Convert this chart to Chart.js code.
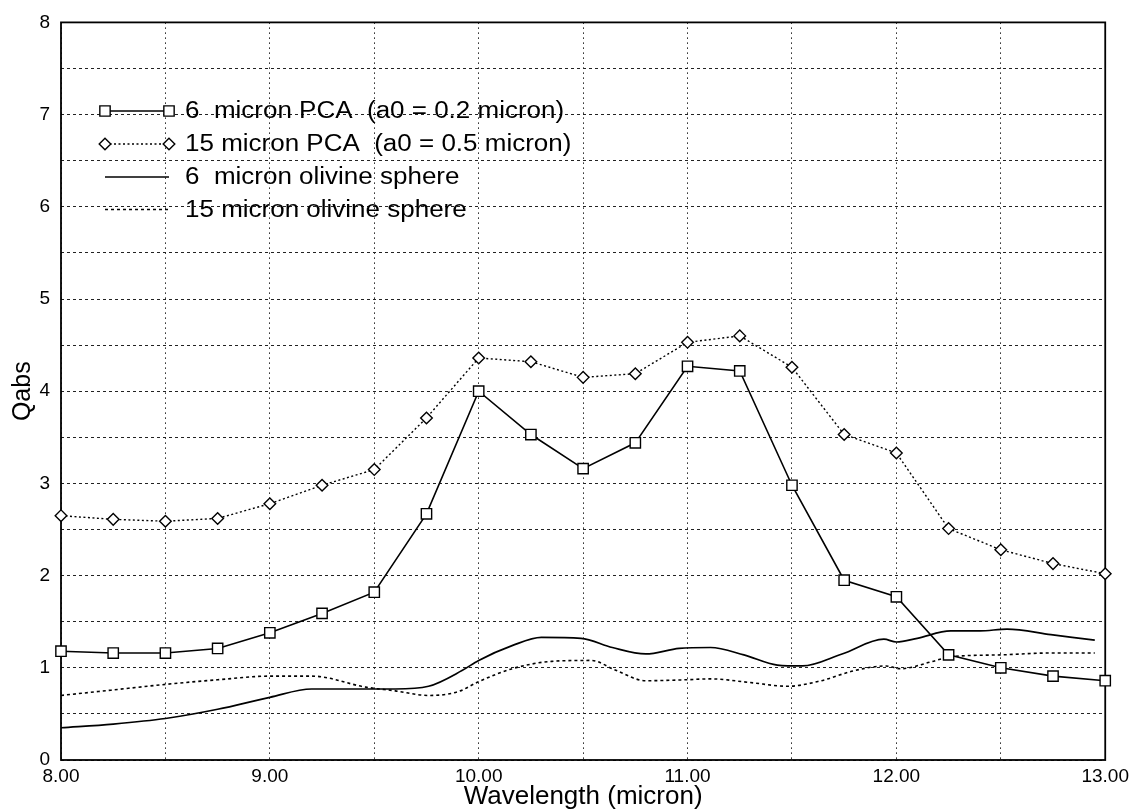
<!DOCTYPE html>
<html><head><meta charset="utf-8">
<script src="https://cdn.jsdelivr.net/npm/chart.js@4/dist/chart.umd.min.js"></script>
<style>html,body{margin:0;padding:0;background:#fff}canvas{display:block}</style>
</head><body>
<canvas id="c" width="1134" height="812"></canvas>
<script>
// ---- data ----
const pcaX = [8.00, 8.25, 8.50, 8.75, 9.00, 9.25, 9.50, 9.75, 10.00, 10.25, 10.50, 10.75, 11.00, 11.25, 11.50, 11.75, 12.00, 12.25, 12.50, 12.75, 13.00];
const pca6 = [1.18, 1.16, 1.16, 1.21, 1.38, 1.59, 1.82, 2.67, 4.00, 3.53, 3.16, 3.44, 4.27, 4.22, 2.98, 1.95, 1.77, 1.14, 1.00, 0.91, 0.86];
const pca15 = [2.65, 2.61, 2.59, 2.62, 2.78, 2.98, 3.15, 3.71, 4.36, 4.32, 4.15, 4.19, 4.53, 4.60, 4.26, 3.53, 3.33, 2.51, 2.28, 2.13, 2.02];

const sphere6X = [8.00, 8.25, 8.50, 8.75, 9.00, 9.20, 9.40, 9.60, 9.76, 9.92, 10.00, 10.16, 10.30, 10.49, 10.64, 10.80, 10.96, 11.11, 11.27, 11.43, 11.55, 11.74, 11.94, 12.00, 12.10, 12.26, 12.40, 12.53, 12.74, 12.95];
const sphere6Y = [0.35, 0.39, 0.45, 0.55, 0.68, 0.77, 0.77, 0.77, 0.80, 0.97, 1.08, 1.24, 1.33, 1.32, 1.22, 1.15, 1.21, 1.22, 1.14, 1.03, 1.02, 1.15, 1.31, 1.28, 1.32, 1.40, 1.40, 1.42, 1.36, 1.30];

const sphere15X = [8.00, 8.25, 8.50, 8.75, 9.00, 9.20, 9.46, 9.60, 9.76, 9.90, 10.00, 10.16, 10.35, 10.54, 10.65, 10.80, 10.99, 11.11, 11.30, 11.48, 11.64, 11.80, 11.95, 12.02, 12.16, 12.26, 12.50, 12.72, 12.95];
const sphere15Y = [0.70, 0.76, 0.82, 0.87, 0.91, 0.91, 0.79, 0.75, 0.70, 0.74, 0.85, 0.99, 1.07, 1.08, 0.98, 0.86, 0.87, 0.88, 0.84, 0.80, 0.86, 0.97, 1.02, 0.99, 1.06, 1.12, 1.14, 1.16, 1.16];

const seriesNames = ['6  micron PCA  (a0 = 0.2 micron)', '15 micron PCA  (a0 = 0.5 micron)', '6  micron olivine sphere', '15 micron olivine sphere'];
const xTickValues = [8, 9, 10, 11, 12, 13];
const yTickValues = [0, 1, 2, 3, 4, 5, 6, 7, 8];
const xTitle = 'Wavelength (micron)';
const yTitle = 'Qabs';

// ---- helpers ----
const pts = (xs, ys) => xs.map((x, i) => ({x: x, y: ys[i]}));
const FONT = '"Liberation Sans", Arial, Helvetica, sans-serif';
Chart.defaults.font.family = FONT;
Chart.defaults.color = '#000';

function drawMarker(ctx, style, r, x, y, bw) {
  ctx.save();
  ctx.setLineDash([]);
  ctx.lineWidth = bw;
  ctx.strokeStyle = '#000';
  ctx.fillStyle = '#fff';
  ctx.beginPath();
  if (style === 'rect') {
    const s = Math.SQRT1_2 * r;
    ctx.rect(x - s, y - s, 2 * s, 2 * s);
  } else {
    ctx.moveTo(x, y - r); ctx.lineTo(x + r, y); ctx.lineTo(x, y + r); ctx.lineTo(x - r, y); ctx.closePath();
  }
  ctx.fill(); ctx.stroke();
  ctx.restore();
}

const framePlugin = {
  id: 'frame',
  beforeDatasetsDraw(chart) {
    const {ctx, chartArea: a} = chart;
    ctx.save();
    ctx.strokeStyle = '#000';
    ctx.lineWidth = 1.8;
    ctx.setLineDash([]);
    ctx.strokeRect(a.left, a.top, a.right - a.left, a.bottom - a.top);
    ctx.restore();
  }
};

const legendPlugin = {
  id: 'customLegend',
  afterDatasetsDraw(chart) {
    const ctx = chart.ctx;
    const rows = [111, 144, 177, 209.5];
    const x0 = 105, x1 = 169, tx = 185;
    chart.data.datasets.forEach((ds, i) => {
      const y = rows[i];
      ctx.save();
      ctx.strokeStyle = '#000';
      ctx.lineWidth = ds.borderWidth;
      ctx.setLineDash(ds.borderDash || []);
      ctx.beginPath(); ctx.moveTo(x0, y); ctx.lineTo(x1, y); ctx.stroke();
      ctx.restore();
      if (ds.pointRadius > 0) {
        drawMarker(ctx, ds.pointStyle, ds.pointRadius, x0, y, ds.pointBorderWidth);
        drawMarker(ctx, ds.pointStyle, ds.pointRadius, x1, y, ds.pointBorderWidth);
      }
      ctx.save();
      ctx.fillStyle = '#000';
      ctx.font = '23px ' + FONT;
      ctx.textBaseline = 'middle';
      ctx.textAlign = 'left';
      ctx.translate(tx, y + 1);
      ctx.scale(1.13, 1);
      ctx.fillText(ds.label, 0, 0);
      ctx.restore();
    });
  }
};

new Chart(document.getElementById('c'), {
  type: 'line',
  data: {
    datasets: [
      {label: seriesNames[0], data: pts(pcaX, pca6), borderColor: '#000', borderWidth: 1.6,
       pointStyle: 'rect', pointRadius: 7.3, pointBorderWidth: 1.4, pointBackgroundColor: '#fff', pointBorderColor: '#000',
       tension: 0, clip: false},
      {label: seriesNames[1], data: pts(pcaX, pca15), borderColor: '#000', borderWidth: 1.4, borderDash: [2, 2.5],
       pointStyle: 'rectRot', pointRadius: 5.8, pointBorderWidth: 1.4, pointBackgroundColor: '#fff', pointBorderColor: '#000',
       tension: 0, clip: false},
      {label: seriesNames[2], data: pts(sphere6X, sphere6Y), borderColor: '#000', borderWidth: 1.7,
       pointRadius: 0, pointBorderWidth: 0, cubicInterpolationMode: 'monotone', clip: false},
      {label: seriesNames[3], data: pts(sphere15X, sphere15Y), borderColor: '#000', borderWidth: 1.6, borderDash: [3, 3],
       pointRadius: 0, pointBorderWidth: 0, cubicInterpolationMode: 'monotone', clip: false}
    ]
  },
  options: {
    responsive: false,
    animation: false,
    devicePixelRatio: 1,
    layout: {padding: {top: 20, right: 26, left: 0, bottom: 0}},
    plugins: {legend: {display: false}, tooltip: {enabled: false}},
    scales: {
      x: {
        type: 'linear', min: 8, max: 13,
        afterFit: s => { s.height = 52; },
        grid: {color: '#222', lineWidth: 1, drawTicks: false},
        border: {display: false, dash: [1.5, 3.5]},
        ticks: {stepSize: 0.5, autoSkip: false, maxRotation: 0, padding: 5, font: {size: 19},
                callback: v => xTickValues.includes(v) ? v.toFixed(2) : ''},
        title: {display: true, text: xTitle, font: {size: 26}, padding: {top: 0, bottom: 0}}
      },
      y: {
        min: 0, max: 8,
        afterFit: s => { s.width = 61; },
        grid: {color: '#222', lineWidth: 1, drawTicks: false},
        border: {display: false, dash: [3, 3]},
        ticks: {stepSize: 0.5, autoSkip: false, padding: 11, font: {size: 19},
                callback: v => yTickValues.includes(v) ? String(v) : ''},
        title: {display: true, text: yTitle, font: {size: 25}, padding: {top: 8, bottom: 0}}
      }
    }
  },
  plugins: [framePlugin, legendPlugin]
});
</script>
</body></html>
